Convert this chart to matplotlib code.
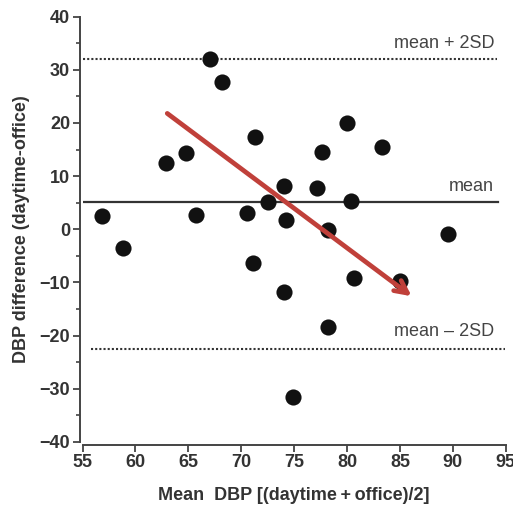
import matplotlib
matplotlib.use("Agg")
import matplotlib.pyplot as plt
from matplotlib.ticker import MultipleLocator

mean_dbp = [56.85, 58.8, 62.85, 64.8, 65.7, 67.0, 68.2, 70.5, 71.3, 71.1, 72.5, 74.05,
            74.2, 74.0, 74.85, 77.2, 77.6, 78.15, 78.15, 79.95, 80.4, 80.65, 83.3, 85.0, 89.5]
dbp_diff = [2.45, -3.6, 12.4, 14.4, 2.6, 32.0, 27.7, 3.0, 17.3, -6.3, 5.1, 8.1,
            1.8, -11.8, -31.6, 7.8, 14.6, -0.2, -18.3, 19.9, 5.3, -9.1, 15.4, -9.7, -0.9]
mean_val = 5.2
upper_val = 32.1
lower_val = -22.6
arrow_start = (63.0, 21.8)
arrow_end = (86.1, -12.6)

plt.rcParams['font.family'] = ['Liberation Sans', 'DejaVu Sans']

fig = plt.figure(figsize=(5.13, 5.05), dpi=100)
ax = fig.add_axes([0.161, 0.125, 0.825, 0.842])

gray = '#333333'
ax.plot([55, 94.3], [mean_val, mean_val], color='#333333', lw=1.6, zorder=2)
ax.plot([55, 94.2], [upper_val, upper_val], color='#333333', lw=1.5, ls=(0, (1, 1)), zorder=2)
ax.plot([55.8, 94.9], [lower_val, lower_val], color='#333333', lw=1.5, ls=(0, (1, 1)), zorder=2)

ax.scatter(mean_dbp, dbp_diff, s=135, color='#111111', zorder=3, linewidths=0)

ax.annotate('', xy=arrow_end, xytext=arrow_start,
            arrowprops=dict(arrowstyle='->,head_length=0.9,head_width=0.45',
                            color='#c0403a', lw=3.4, shrinkA=0, shrinkB=0,
                            capstyle='round', joinstyle='round'),
            zorder=4)

ax.text(93.9, upper_val + 1.2, 'mean + 2SD', ha='right', va='bottom', fontsize=13, color='#444444')
ax.text(93.9, mean_val + 1.2, 'mean', ha='right', va='bottom', fontsize=13, color='#444444')
ax.text(93.9, lower_val + 1.7, 'mean \u2013 2SD', ha='right', va='bottom', fontsize=13, color='#444444')

ax.set_xlim(55, 95)
ax.set_ylim(-40, 40)
ax.yaxis.set_minor_locator(MultipleLocator(5))

for s in ['top', 'right']:
    ax.spines[s].set_visible(False)
ax.spines['left'].set_position(('outward', 2))
ax.spines['bottom'].set_position(('outward', 2))
for s in ['left', 'bottom']:
    ax.spines[s].set_linewidth(1.4)
    ax.spines[s].set_color('#444444')

ax.tick_params(which='major', direction='out', length=5, width=1.3, color='#444444',
               labelsize=13, labelcolor=gray, pad=2)
ax.tick_params(which='minor', direction='out', length=3, width=1.2, color='#444444')

xt = list(range(55, 96, 5))
yt = list(range(-40, 41, 10))
ax.set_xticks(xt)
ax.set_xticklabels([str(v) for v in xt], fontweight='bold')
ax.set_yticks(yt)
ax.set_yticklabels(['\u2212' + str(-v) if v < 0 else str(v) for v in yt], fontweight='bold')

ax.set_xlabel('Mean  DBP [(daytime\u2009+\u2009office)/2]', fontsize=13, fontweight='bold', color=gray, labelpad=11)
ax.set_ylabel('DBP difference (daytime-office)', fontsize=13, fontweight='bold', color=gray, labelpad=7)

fig.savefig('out.png', dpi=100)
